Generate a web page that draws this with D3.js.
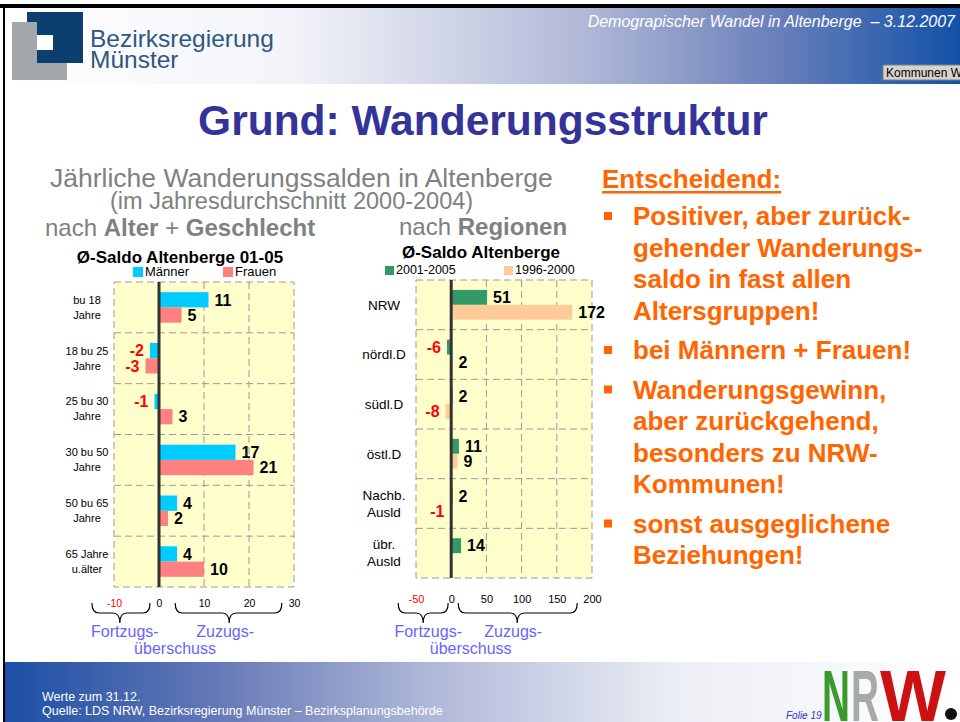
<!DOCTYPE html>
<html lang="de">
<head>
<meta charset="utf-8">
<title>Grund: Wanderungsstruktur</title>
<script src="https://d3js.org/d3.v7.min.js"></script>
<style>
  body { margin: 0; background: #fff; }
  svg { display: block; font-family: "Liberation Sans", Arial, sans-serif; }
</style>
</head>
<body>
<script>

//Daten: nach Alter + Geschlecht
var ageCats = [["bu 18", "Jahre"], ["18 bu 25", "Jahre"], ["25 bu 30", "Jahre"],
               ["30 bu 50", "Jahre"], ["50 bu 65", "Jahre"], ["65 Jahre", "u.älter"]];
var ageSeries = ["Männer", "Frauen"];
var maenner = [11, -2, -1, 17, 4, 4];
var frauen = [5, -3, 3, 21, 2, 10];
var ageTicks = [-10, 0, 10, 20, 30];

//Daten: nach Regionen
var regionCats = [["NRW"], ["nördl.D"], ["südl.D"], ["östl.D"], ["Nachb.", "Ausld"], ["übr.", "Ausld"]];
var regionSeries = ["2001-2005", "1996-2000"];
var saldo0105 = [51, -6, 2, 11, 2, 14];
var saldo9600 = [172, 2, -8, 9, -1, null];
var regionTicks = [-50, 0, 50, 100, 150, 200];

//Texte rechts
var bullets = [
  ["Positiver, aber zurück-", "gehender Wanderungs-", "saldo in fast allen", "Altersgruppen!"],
  ["bei Männern + Frauen!"],
  ["Wanderungsgewinn,", "aber zurückgehend,", "besonders zu NRW-", "Kommunen!"],
  ["sonst ausgeglichene", "Beziehungen!"]
];

var w = 960;
var h = 722;
var orange = "#ff6600";

var svg = d3.select("body")
  .append("svg")
  .attr("width", w)
  .attr("height", h);

var defs = svg.append("defs");

var hdr = defs.append("linearGradient").attr("id", "hdrGrad");
hdr.append("stop").attr("offset", "0").attr("stop-color", "#ffffff");
hdr.append("stop").attr("offset", "0.3").attr("stop-color", "#f3f4f9");
hdr.append("stop").attr("offset", "0.6").attr("stop-color", "#b2bad8");
hdr.append("stop").attr("offset", "0.8").attr("stop-color", "#6d82bb");
hdr.append("stop").attr("offset", "1").attr("stop-color", "#1351a8");

var ftr = defs.append("linearGradient").attr("id", "ftrGrad");
ftr.append("stop").attr("offset", "0").attr("stop-color", "#1c4fa5");
ftr.append("stop").attr("offset", "0.22").attr("stop-color", "#6578b6");
ftr.append("stop").attr("offset", "0.45").attr("stop-color", "#b0b9d8");
ftr.append("stop").attr("offset", "0.7").attr("stop-color", "#eceef5");
ftr.append("stop").attr("offset", "1").attr("stop-color", "#ffffff");

//Rahmen + Kopfzeile
svg.append("rect").attr("x", 0).attr("y", 4).attr("width", w).attr("height", 4).attr("fill", "#000");
svg.append("rect").attr("x", 3).attr("y", 4).attr("width", 2).attr("height", h - 4).attr("fill", "#000");
svg.append("rect").attr("x", 5).attr("y", 8).attr("width", w - 5).attr("height", 76).attr("fill", "url(#hdrGrad)");

//Logo Bezirksregierung
svg.append("rect").attr("x", 27).attr("y", 12).attr("width", 56).attr("height", 51).attr("fill", "#0c3f6f");
svg.append("rect").attr("x", 12).attr("y", 22).attr("width", 25).attr("height", 58).attr("fill", "#a3a6ab");
svg.append("rect").attr("x", 12).attr("y", 63).attr("width", 55).attr("height", 17).attr("fill", "#a3a6ab");
svg.append("rect").attr("x", 37).attr("y", 35).attr("width", 16).attr("height", 15).attr("fill", "#fff");

svg.append("text").attr("x", 90).attr("y", 47).attr("font-size", 24.5).attr("fill", "#2f5684").text("Bezirksregierung");
svg.append("text").attr("x", 90).attr("y", 68).attr("font-size", 24.5).attr("fill", "#2f5684").text("Münster");

svg.append("text")
  .attr("x", 955).attr("y", 27)
  .attr("text-anchor", "end")
  .attr("font-size", 16)
  .attr("font-style", "italic")
  .attr("fill", "#fff")
  .text("Demograpischer Wandel in Altenberge \u00a0\u2013 3.12.2007");

svg.append("rect").attr("x", 883).attr("y", 65).attr("width", 80).attr("height", 15)
  .attr("fill", "#d6d3cc").attr("stroke", "#808080");
svg.append("text").attr("x", 886).attr("y", 77).attr("font-size", 12).attr("fill", "#000").text("Kommunen W");

//Titel
svg.append("text")
  .attr("x", 483).attr("y", 135)
  .attr("text-anchor", "middle")
  .attr("font-size", 42.5)
  .attr("font-weight", "bold")
  .attr("fill", "#333399")
  .text("Grund: Wanderungsstruktur");

//Untertitel
svg.append("text").attr("x", 50).attr("y", 187).attr("font-size", 26.5).attr("fill", "#808080")
  .text("Jährliche Wanderungssalden in Altenberge");
svg.append("text").attr("x", 110).attr("y", 209).attr("font-size", 23.5).attr("fill", "#808080")
  .text("(im Jahresdurchschnitt 2000-2004)");

var sub1 = svg.append("text").attr("x", 45).attr("y", 236).attr("font-size", 24).attr("fill", "#808080");
sub1.append("tspan").text("nach ");
sub1.append("tspan").attr("font-weight", "bold").text("Alter");
sub1.append("tspan").text(" + ");
sub1.append("tspan").attr("font-weight", "bold").text("Geschlecht");

var sub2 = svg.append("text").attr("x", 399).attr("y", 235).attr("font-size", 24).attr("fill", "#808080");
sub2.append("tspan").text("nach ");
sub2.append("tspan").attr("font-weight", "bold").text("Regionen");

//geschweifte Klammer nach unten
function bracePath(x1, x2, xt, y, hh) {
  var r = 7, m = y + hh / 2;
  return "M" + x1 + "," + y +
    "Q" + x1 + "," + m + " " + (x1 + r) + "," + m +
    "L" + (xt - r) + "," + m +
    "Q" + xt + "," + m + " " + xt + "," + (y + hh) +
    "Q" + xt + "," + m + " " + (xt + r) + "," + m +
    "L" + (x2 - r) + "," + m +
    "Q" + x2 + "," + m + " " + x2 + "," + y;
}

function drawChart(o) {
  var x = d3.scaleLinear().domain(o.domain).range([o.left, o.right]);
  var y = d3.scaleBand()
    .domain(d3.range(o.cats.length))
    .range([o.top, o.bottom])
    .paddingInner(0.4)
    .paddingOuter(0.2);
  var ys = d3.scaleBand().domain([0, 1]).range([0, y.bandwidth()]);
  var g = svg.append("g");

  //Titel + Legende
  g.append("text")
    .attr("x", o.titleX).attr("y", o.titleY)
    .attr("text-anchor", "middle")
    .attr("font-size", 17).attr("font-weight", "bold").attr("fill", "#000")
    .text(o.title);

  o.series.forEach(function(name, s) {
    g.append("rect")
      .attr("x", o.legendX[s]).attr("y", o.legendY - o.legendBox + 1)
      .attr("width", o.legendBox).attr("height", o.legendBox)
      .attr("fill", o.colors[s]);
    g.append("text")
      .attr("x", o.legendX[s] + o.legendBox + 2).attr("y", o.legendY)
      .attr("font-size", o.legendFont).attr("fill", "#000")
      .text(name);
  });

  //Plotflaeche
  g.append("rect")
    .attr("x", o.left).attr("y", o.top)
    .attr("width", o.right - o.left).attr("height", o.bottom - o.top)
    .attr("fill", "#ffffcc")
    .attr("stroke", "#9a9a9a")
    .attr("stroke-dasharray", "7,4");

  var inner = o.ticks.filter(function(t) {
    return t !== 0 && t > o.domain[0] && t < o.domain[1];
  });
  g.selectAll(".vgrid")
    .data(inner)
    .enter()
    .append("line")
    .attr("x1", function(d) { return x(d); })
    .attr("x2", function(d) { return x(d); })
    .attr("y1", o.top).attr("y2", o.bottom)
    .attr("stroke", "#9a9a9a").attr("stroke-dasharray", "7,4");

  g.selectAll(".hgrid")
    .data(d3.range(1, o.cats.length))
    .enter()
    .append("line")
    .attr("x1", o.left).attr("x2", o.right)
    .attr("y1", function(d) { return y(d) - y.step() * y.paddingInner() / 2; })
    .attr("y2", function(d) { return y(d) - y.step() * y.paddingInner() / 2; })
    .attr("stroke", "#9a9a9a").attr("stroke-dasharray", "7,4");

  //Balken
  var bars = [];
  o.values.forEach(function(arr, s) {
    arr.forEach(function(v, i) {
      if (v !== null) bars.push({ i: i, s: s, v: v });
    });
  });

  g.selectAll(".bar")
    .data(bars)
    .enter()
    .append("rect")
    .attr("x", function(d) { return x(Math.min(0, d.v)); })
    .attr("width", function(d) { return Math.abs(x(d.v) - x(0)); })
    .attr("y", function(d) { return y(d.i) + ys(d.s); })
    .attr("height", ys.bandwidth())
    .attr("fill", function(d) { return o.colors[d.s]; });

  g.selectAll(".val")
    .data(bars)
    .enter()
    .append("text")
    .attr("x", function(d) { return d.v < 0 ? x(d.v) - 6 : x(d.v) + 6; })
    .attr("y", function(d) { return y(d.i) + ys(d.s) + ys.bandwidth() / 2; })
    .attr("dy", "0.36em")
    .attr("text-anchor", function(d) { return d.v < 0 ? "end" : "start"; })
    .attr("font-size", 16).attr("font-weight", "bold")
    .attr("fill", function(d) { return d.v < 0 ? "#ff0000" : "#000"; })
    .text(function(d) { return String(d.v); });

  //Nulllinie
  g.append("line")
    .attr("x1", x(0)).attr("x2", x(0))
    .attr("y1", o.top).attr("y2", o.bottom)
    .attr("stroke", "#333").attr("stroke-width", 3);

  //Kategorien
  var cat = g.selectAll(".cat")
    .data(o.cats)
    .enter()
    .append("text")
    .attr("text-anchor", "middle")
    .attr("font-size", o.catFont)
    .attr("fill", "#000");
  cat.each(function(lines, i) {
    var t = d3.select(this);
    var cy = y(i) + y.bandwidth() / 2;
    var top = cy - (lines.length - 1) * o.catLine / 2;
    lines.forEach(function(l, k) {
      t.append("tspan")
        .attr("x", o.catX)
        .attr("y", top + k * o.catLine)
        .attr("dy", "0.35em")
        .text(l);
    });
  });

  //X-Achse
  var axis = g.append("g")
    .attr("transform", "translate(0," + o.bottom + ")")
    .call(d3.axisBottom(x)
      .tickValues(o.ticks)
      .tickSize(0)
      .tickPadding(o.tickPad)
      .tickFormat(function(d) { return String(d); }));
  axis.select(".domain").remove();
  axis.selectAll("text")
    .attr("font-family", "Liberation Sans, Arial, sans-serif")
    .attr("font-size", o.tickFont)
    .attr("fill", function(d) { return d < 0 ? "#ff0000" : "#000"; });

  //Klammern
  o.braces.forEach(function(b) {
    g.append("path")
      .attr("d", bracePath(x(b[0]), x(b[1]), x(b[2]), o.braceY, 20))
      .attr("fill", "none").attr("stroke", "#000").attr("stroke-width", 1.2);
  });
  var fx = x(o.braces[0][2]) + 5;
  var zx = x(o.braces[1][2]) - 4;
  g.append("text").attr("x", fx).attr("y", 637).attr("text-anchor", "middle")
    .attr("font-size", 16).attr("fill", "#6666ff").text("Fortzugs-");
  g.append("text").attr("x", zx).attr("y", 637).attr("text-anchor", "middle")
    .attr("font-size", 16).attr("fill", "#6666ff").text("Zuzugs-");
  g.append("text").attr("x", (fx + zx) / 2).attr("y", 653.5).attr("text-anchor", "middle")
    .attr("font-size", 16).attr("fill", "#6666ff").text("überschuss");
}

drawChart({
  cats: ageCats, series: ageSeries, values: [maenner, frauen], ticks: ageTicks,
  colors: ["#00ccff", "#ff8080"],
  domain: [-10, 30], left: 114, right: 294, top: 282, bottom: 587,
  title: "Ø-Saldo Altenberge 01-05", titleX: 180, titleY: 263,
  legendX: [133, 223], legendY: 276, legendBox: 10, legendFont: 13,
  catX: 87, catFont: 11, catLine: 15,
  tickPad: 12.5, tickFont: 10.5,
  braceY: 603, braces: [[-14.9, -2, -8.7], [3.6, 27.3, 15.6]]
});

drawChart({
  cats: regionCats, series: regionSeries, values: [saldo0105, saldo9600], ticks: regionTicks,
  colors: ["#339966", "#ffcc99"],
  domain: [-50, 200], left: 416, right: 592, top: 280, bottom: 578,
  title: "Ø-Saldo Altenberge", titleX: 481, titleY: 258,
  legendX: [385, 504], legendY: 274, legendBox: 9, legendFont: 12.5,
  catX: 384, catFont: 13.5, catLine: 17,
  tickPad: 17, tickFont: 11,
  braceY: 603, braces: [[-75.3, -4.3, -39.8], [10, 179, 93.8]]
});

//Text rechts
var ent = svg.append("text")
  .attr("x", 602).attr("y", 188)
  .attr("font-size", 26).attr("font-weight", "bold").attr("fill", orange)
  .text("Entscheidend:");
var entW = ent.node().getComputedTextLength();
svg.append("rect").attr("x", 602).attr("y", 191).attr("width", entW).attr("height", 2.5).attr("fill", orange);

var by = 225;
bullets.forEach(function(lines) {
  svg.append("rect").attr("x", 604).attr("y", by - 13).attr("width", 8).attr("height", 8).attr("fill", orange);
  lines.forEach(function(l) {
    svg.append("text")
      .attr("x", 633).attr("y", by)
      .attr("font-size", 26).attr("font-weight", "bold").attr("fill", orange)
      .text(l);
    by += 31.5;
  });
  by += 8;
});

//Fusszeile
svg.append("rect").attr("x", 5).attr("y", 662).attr("width", w - 5).attr("height", 60).attr("fill", "url(#ftrGrad)");
svg.append("text").attr("x", 42).attr("y", 701).attr("font-size", 12.5).attr("fill", "#fff").text("Werte zum 31.12.");
svg.append("text").attr("x", 42).attr("y", 715).attr("font-size", 12.5).attr("fill", "#fff")
  .text("Quelle: LDS NRW, Bezirksregierung Münster \u2013 Bezirksplanungsbehörde");
svg.append("text").attr("x", 786).attr("y", 719).attr("font-size", 10).attr("font-style", "italic")
  .attr("fill", "#3333cc").text("Folie 19");

//NRW-Logo
var nrw = [["N", "#3a9a2a", 822, 28], ["R", "#a9a9a9", 851, 28], ["W", "#cc1111", 880, 66]];
nrw.forEach(function(d) {
  svg.append("text")
    .attr("x", d[2]).attr("y", 721)
    .attr("font-size", 72).attr("font-weight", "bold")
    .attr("fill", d[1])
    .attr("textLength", d[3]).attr("lengthAdjust", "spacingAndGlyphs")
    .text(d[0]);
});
svg.append("circle").attr("cx", 951).attr("cy", 714).attr("r", 6).attr("fill", "#111");

</script>
</body>
</html>
